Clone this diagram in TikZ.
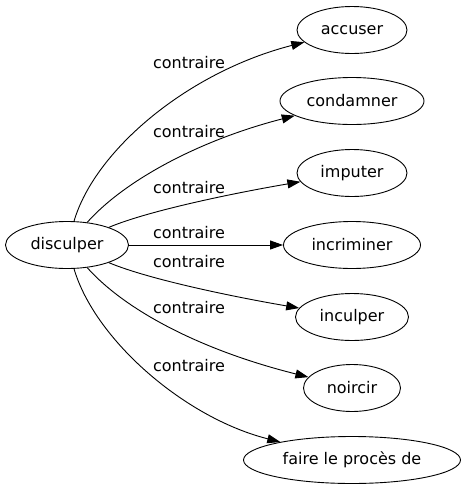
\documentclass[tikz,border=0pt]{standalone}
\usepackage{fontspec}
\setmainfont{DejaVu Sans}
\usetikzlibrary{shapes.geometric,arrows.meta}
\begin{document}
\begin{tikzpicture}[x=1pt,y=-1pt,
  word/.style={draw,ellipse,inner sep=0pt,minimum height=47pt,line width=0.9pt,font=\fontsize{16}{19}\selectfont},
  rel/.style={font=\fontsize{16}{19}\selectfont,inner sep=0pt,anchor=base},
  link/.style={line width=0.9pt,-{Triangle[length=13pt,width=9pt]}}]
\useasboundingbox (0,0) rectangle (465,491);
\node[word,minimum width=123pt] (d) at (67,245) {disculper};
\node[word,minimum width=110pt] (a) at (352,30) {accuser};
\node[word,minimum width=144pt] (c) at (352,101) {condamner};
\node[word,minimum width=110pt] (i) at (352,173) {imputer};
\node[word,minimum width=137pt] (r) at (352,245) {incriminer};
\node[word,minimum width=113pt] (u) at (352,317) {inculper};
\node[word,minimum width=97pt] (n) at (352,388) {noircir};
\node[word,minimum width=217pt] (f) at (352,460) {faire le procès de};
\draw[link] (d) .. controls (95,150) and (188,72) .. (a);
\draw[link] (d) .. controls (125,180) and (200,140) .. (c);
\draw[link] (d) .. controls (150,210) and (240,192) .. (i);
\draw[link] (d) -- (r);
\draw[link] (d) .. controls (150,280) and (240,298) .. (u);
\draw[link] (d) .. controls (125,310) and (200,350) .. (n);
\draw[link] (d) .. controls (95,340) and (185,418) .. (f);
\node[rel] (l1) at (189,68.5) {contraire};
\node[rel] (l2) at (189,137) {contraire};
\node[rel] (l3) at (189,193) {contraire};
\node[rel] (l4) at (189,238) {contraire};
\node[rel] (l5) at (189,267) {contraire};
\node[rel] (l6) at (189,313) {contraire};
\node[rel] (l7) at (189,371) {contraire};
\end{tikzpicture}
\end{document}
